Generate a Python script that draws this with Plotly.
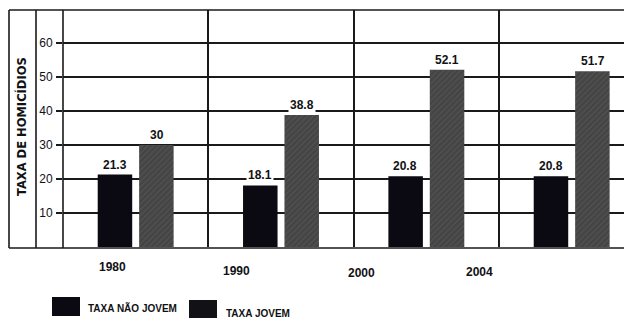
import plotly.graph_objects as go

years = ["1980", "1990", "2000", "2004"]
taxa_nao_jovem = [21.3, 18.1, 20.8, 20.8]
taxa_jovem = [30, 38.8, 52.1, 51.7]
series_names = ["TAXA NÃO JOVEM", "TAXA JOVEM"]
y_ticks = [10, 20, 30, 40, 50, 60]
y_title = "TAXA DE HOMICÍDIOS"

W, H = 624, 321
L, R, T, B = 63, 0, 10, 74
PW, PH = W - L - R, H - T - B

def px(x):
    return (x - L) / PW

def py(y):
    return (H - B - y) / PH

FONT = "Liberation Sans"
INK = "#111114"

fig = go.Figure()
fig.add_bar(x=years, y=taxa_nao_jovem, name=series_names[0],
            marker=dict(color="#0b0a12", line=dict(width=0)))
fig.add_bar(x=years, y=taxa_jovem, name=series_names[1],
            marker=dict(color="#474747", line=dict(width=0),
                        pattern=dict(shape="/", bgcolor="#444444", fgcolor="#5e5e5e",
                                     size=4, solidity=0.35)))

# value labels with white background
for vals, shift in ((taxa_nao_jovem, -21), (taxa_jovem, 21)):
    for i, v in enumerate(vals):
        txt = f"{v:g}"
        fig.add_annotation(x=i, y=v, xref="x", yref="y", text=f"<b>{txt}</b>",
                           showarrow=False, xshift=shift, xanchor="center",
                           yanchor="bottom", yshift=1,
                           bgcolor="white", borderpad=1,
                           font=dict(family=FONT, size=12, color=INK))

# category labels (scan is skewed, labels sit left of the groups)
cat_shift = [-23, -45, -65, -92]
cat_y = [267, 271, 273, 272]
for i, (yr, dx, yy) in enumerate(zip(years, cat_shift, cat_y)):
    fig.add_annotation(x=i, xref="x", y=py(yy), yref="paper", text=f"<b>{yr}</b>",
                       showarrow=False, xshift=dx, xanchor="center", yanchor="middle",
                       font=dict(family=FONT, size=12, color=INK))

# y title
fig.add_annotation(x=px(22), y=py(127), xref="paper", yref="paper", text=f"<b>{y_title}</b>",
                   textangle=-90, showarrow=False, xanchor="center", yanchor="middle",
                   font=dict(family="DejaVu Sans", size=11.5, color=INK))

# frame lines
lc = dict(color="#1a1a1a", width=1.6)
fig.add_shape(type="line", xref="paper", yref="paper", x0=px(9), x1=1, y0=py(10), y1=py(10), line=lc)
fig.add_shape(type="line", xref="paper", yref="paper", x0=px(9), x1=1, y0=py(248), y1=py(248), line=lc)
for xx in (9, 36, 63):
    fig.add_shape(type="line", xref="paper", yref="paper", x0=px(xx), x1=px(xx),
                  y0=py(248), y1=py(10), line=lc)

# custom legend
legend_boxes = [(52, 80, 297, 316, "#0b0a12"), (189, 217, 300, 318, "#121216")]
legend_text = [(86, 308), (224, 313)]
for name, (x0, x1, y0, y1, col), (tx, ty) in zip(series_names, legend_boxes, legend_text):
    fig.add_shape(type="rect", xref="paper", yref="paper", x0=px(x0), x1=px(x1),
                  y0=py(y1), y1=py(y0), fillcolor=col, line=dict(width=0))
    fig.add_annotation(x=px(tx), y=py(ty), xref="paper", yref="paper", text=f"<b>{name}</b>",
                       xanchor="left", yanchor="middle", showarrow=False,
                       font=dict(family=FONT, size=10, color=INK))

fig.update_layout(
    width=W, height=H, margin=dict(l=L, r=R, t=T, b=B),
    paper_bgcolor="white", plot_bgcolor="white",
    barmode="group", bargap=0.43, bargroupgap=0.167,
    showlegend=False,
    xaxis=dict(type="category", range=[-0.5, 3.36], tickson="boundaries",
               showticklabels=False, ticks="", showgrid=True, gridcolor="#1a1a1a", gridwidth=1.6,
               zeroline=False, showline=False),
    yaxis=dict(range=[0, 69.7], tickvals=y_ticks, ticks="outside", ticklen=6,
               tickcolor="#1a1a1a", tickwidth=1.6,
               showgrid=True, gridcolor="#1a1a1a", gridwidth=1.6, zeroline=False, showline=False,
               tickfont=dict(family=FONT, size=12, color=INK), ticklabelstandoff=1,
               tickprefix="<b>", ticksuffix="</b>"),
)

fig.write_html("out.html")
